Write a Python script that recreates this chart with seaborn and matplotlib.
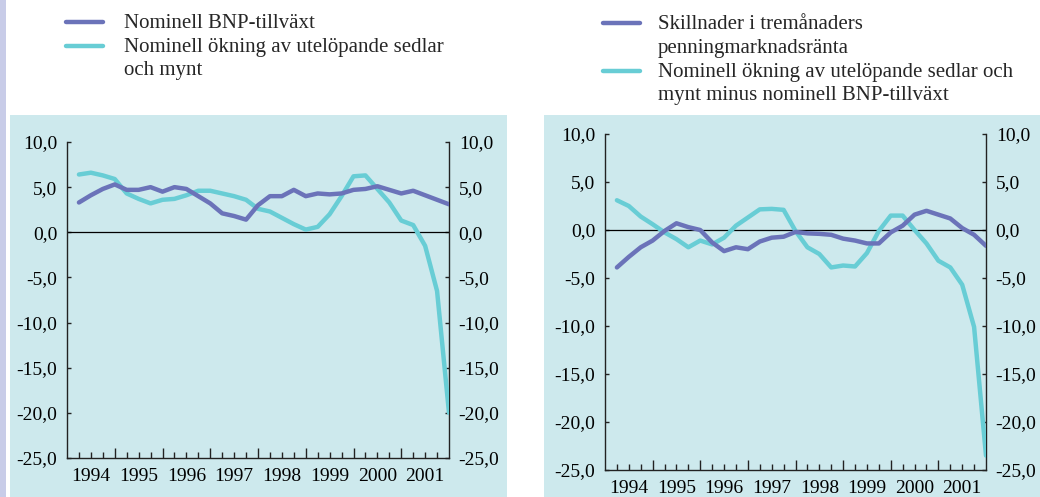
# -*- coding: utf-8 -*-
"""
Nominell BNP-tillväxt, utelöpande sedlar och mynt samt räntedifferens,
kvartalsdata 1994-2001.
"""

import numpy as np
import pandas as pd
import matplotlib
matplotlib.use("Agg")
import matplotlib.pyplot as plt
from matplotlib.lines import Line2D
from matplotlib.patches import Rectangle
import seaborn as sns

# kvartal 1..32 = 1994 K1 .. 2001 K4
KVARTAL = np.arange(1, 33)
AR = ["1994", "1995", "1996", "1997", "1998", "1999", "2000", "2001"]

# vänster diagram
BNP_TILLVAXT = [3.3, 4.1, 4.8, 5.3, 4.7, 4.7, 5.0, 4.5, 5.0, 4.8, 4.0, 3.2,
                2.1, 1.8, 1.4, 3.0, 4.0, 4.0, 4.7, 4.0, 4.3, 4.2, 4.3, 4.7,
                4.8, 5.1, 4.7, 4.3, 4.6, 4.1, 3.6, 3.1]
SEDLAR_MYNT = [6.4, 6.6, 6.3, 5.9, 4.3, 3.7, 3.2, 3.6, 3.7, 4.1, 4.6, 4.6,
               4.3, 4.0, 3.6, 2.6, 2.3, 1.6, 0.9, 0.3, 0.6, 2.0, 4.0, 6.2,
               6.3, 4.8, 3.3, 1.3, 0.8, -1.5, -6.5, -20.0]

# höger diagram
RANTESKILLNAD = [-3.9, -2.8, -1.8, -1.1, -0.1, 0.7, 0.3, 0.0, -1.3, -2.2, -1.8, -2.0,
                 -1.2, -0.8, -0.7, -0.2, -0.35, -0.4, -0.5, -0.9, -1.1, -1.4, -1.4, -0.25,
                 0.45, 1.6, 2.0, 1.6, 1.2, 0.2, -0.5, -1.65]
SEDLAR_MINUS_BNP = [3.1, 2.5, 1.4, 0.6, -0.25, -0.95, -1.8, -1.1, -1.5, -0.8, 0.45, 1.3,
                    2.15, 2.2, 2.1, -0.1, -1.8, -2.5, -3.9, -3.7, -3.8, -2.4, -0.1, 1.5,
                    1.5, 0.0, -1.4, -3.2, -3.9, -5.7, -10.1, -23.5]

Y_TICKS = [10, 5, 0, -5, -10, -15, -20, -25]
Y_LABELS = ["10,0", "5,0", "0,0", "-5,0", "-10,0", "-15,0", "-20,0", "-25,0"]

LEG_VANSTER = [["Nominell BNP-tillväxt"],
               ["Nominell ökning av utelöpande sedlar", "och mynt"]]
LEG_HOGER = [["Skillnader i tremånaders", "penningmarknadsränta"],
             ["Nominell ökning av utelöpande sedlar och", "mynt minus nominell BNP-tillväxt"]]

BLA = "#6b73b9"
CYAN = "#68cdd5"
BAKGRUND = "#cde9ed"
LAVENDEL = "#c8cce8"
TICK_FS = 14
LEG_FS = 15

sns.set_theme(style="ticks")
plt.rcParams['font.family'] = ['Liberation Serif', 'DejaVu Serif']
plt.rcParams['font.size'] = TICK_FS

W, H = 1040, 497
fig = plt.figure(figsize=(W / 100, H / 100), dpi=100)
fig.patch.set_facecolor("white")

def px_rect(x0, y0, x1, y1):
    return [x0 / W, 1 - y1 / H, (x1 - x0) / W, (y1 - y0) / H]

# bakgrundsytor
for (x0, y0, x1, y1), c in [((0, 0, 6, 497), LAVENDEL),
                            ((10, 115, 507, 497), BAKGRUND),
                            ((544, 115, 1040, 497), BAKGRUND)]:
    r = px_rect(x0, y0, x1, y1)
    fig.add_artist(Rectangle((r[0], r[1]), r[2], r[3], transform=fig.transFigure,
                             facecolor=c, edgecolor="none", zorder=-5))


def rita_panel(ax, serie1, serie2, xpad_bottom):
    df = pd.DataFrame({"kvartal": KVARTAL, "s1": serie1, "s2": serie2})
    ax.axhline(0, color="black", lw=0.9, zorder=1)
    sns.lineplot(data=df, x="kvartal", y="s2", color=CYAN, lw=3.2, ax=ax, zorder=3)
    sns.lineplot(data=df, x="kvartal", y="s1", color=BLA, lw=3.2, ax=ax, zorder=4)
    ax.set_xlim(0, 32)
    ax.set_ylim(-25, 10)
    ax.set_facecolor("none")
    ax.set_xlabel("")
    ax.set_ylabel("")
    ax.spines["top"].set_visible(False)
    for s in ["left", "right", "bottom"]:
        ax.spines[s].set_color("#222222")
        ax.spines[s].set_linewidth(1.0)
    ax.set_yticks(Y_TICKS)
    ax.set_yticklabels(Y_LABELS)
    ax.yaxis.set_ticks_position("both")
    ax.tick_params(axis="y", direction="in", length=3, width=1, colors="#222222",
                   labelleft=True, labelright=True, pad=7, labelcolor="black",
                   labelsize=TICK_FS)
    ax.set_xticks(np.arange(4, 32, 4))
    ax.set_xticklabels([])
    ax.set_xticks([k for k in range(1, 32) if k % 4 != 0], minor=True)
    ax.tick_params(axis="x", which="major", direction="in", length=7, width=1, colors="#222222")
    ax.tick_params(axis="x", which="minor", direction="in", length=4, width=1, colors="#222222")
    sek = ax.secondary_xaxis("bottom")
    sek.set_xticks(np.arange(2, 32, 4))
    sek.set_xticklabels(AR)
    sek.tick_params(length=0, pad=xpad_bottom, labelsize=TICK_FS, labelcolor="black")
    sek.spines["bottom"].set_visible(False)


def rita_legend(handtag_x, rader, farger):
    # rader: lista med (baslinjer, textrader)
    for (baslinjer, text), farg in zip(rader, farger):
        y_h = baslinjer[0] - 6
        fig.add_artist(Line2D([handtag_x[0] / W, handtag_x[1] / W], [1 - y_h / H, 1 - y_h / H],
                              transform=fig.transFigure, color=farg, lw=3.2))
        for b, t in zip(baslinjer, text):
            fig.text(handtag_x[2] / W, 1 - b / H, t, ha="left", va="baseline", fontsize=LEG_FS)


ax1 = fig.add_axes(px_rect(67, 142, 449, 458))
rita_panel(ax1, BNP_TILLVAXT, SEDLAR_MYNT, 7)
ax2 = fig.add_axes(px_rect(605, 134, 986, 470))
rita_panel(ax2, RANTESKILLNAD, SEDLAR_MINUS_BNP, 7.5)

rita_legend((66, 103, 124), [([28], LEG_VANSTER[0]), ([52, 75], LEG_VANSTER[1])], [BLA, CYAN])
rita_legend((603, 640, 658), [([29, 53], LEG_HOGER[0]), ([77, 100], LEG_HOGER[1])], [BLA, CYAN])

fig.savefig("out.png", dpi=100)
